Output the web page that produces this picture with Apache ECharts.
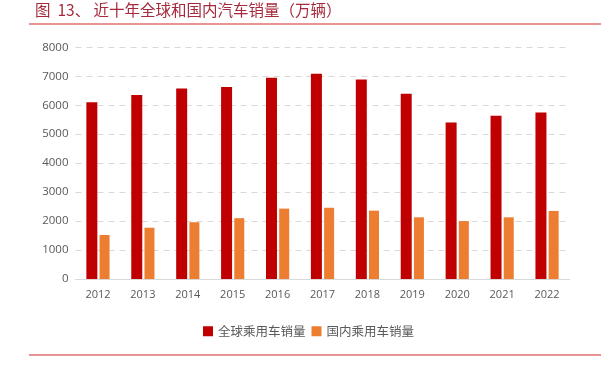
<!DOCTYPE html>
<html><head><meta charset="utf-8">
<script src="https://cdn.jsdelivr.net/npm/echarts@6/dist/echarts.min.js"></script>
<style>html,body{margin:0;padding:0;background:#fff}#c{width:601px;height:370px}</style>
</head><body><div id="c"></div>
<script>
const years = ['2012','2013','2014','2015','2016','2017','2018','2019','2020','2021','2022'];
const globalSales = [6100, 6350, 6580, 6630, 6950, 7090, 6890, 6400, 5400, 5640, 5750];
const domesticSales = [1520, 1770, 1960, 2100, 2430, 2460, 2360, 2130, 2000, 2130, 2350];
const seriesNames = ['全球乘用车销量', '国内乘用车销量'];
const titleText = '图  13、 近十年全球和国内汽车销量（万辆）';

const chart = echarts.init(document.getElementById('c'));
chart.setOption({
  animation: false,
  title: {text: titleText, left: 30, top: -3, textStyle: {fontFamily: 'Noto Sans CJK SC', fontSize: 15.5, fontWeight: 'normal', color: '#a52a3c'}},
  graphic: [
    {type: 'line', shape: {x1: 29, y1: 24, x2: 601, y2: 24}, style: {stroke: '#e07070', lineWidth: 1.5}},
    {type: 'line', shape: {x1: 29, y1: 355, x2: 601, y2: 355}, style: {stroke: '#e07070', lineWidth: 1.5}}
  ],
  legend: {
    data: seriesNames, left: 198, top: 320, itemWidth: 10, itemHeight: 10, itemGap: 6,
    icon: 'rect',
    textStyle: {fontFamily: 'Noto Sans CJK SC', fontSize: 12.5, color: '#595959'}
  },
  grid: {left: 75.5, right: 31.5, top: 47.3, bottom: 91, containLabel: false},
  xAxis: {
    type: 'category', data: years,
    axisLine: {lineStyle: {color: '#d9d9d9'}}, axisTick: {show: false},
    axisLabel: {color: '#595959', fontSize: 11, fontFamily: 'Open Sans', margin: 10}
  },
  yAxis: {
    type: 'value', min: 0, max: 8000, interval: 1000,
    axisLine: {show: false}, axisTick: {show: false},
    axisLabel: {color: '#595959', fontSize: 11.5, fontFamily: 'Open Sans', margin: 7, formatter: v => String(v)},
    splitLine: {lineStyle: {color: '#d9d9d9', type: [6, 5]}}
  },
  series: [
    {name: seriesNames[0], type: 'bar', data: globalSales, barWidth: 11, barGap: '20%', itemStyle: {color: '#c00000'}},
    {name: seriesNames[1], type: 'bar', data: domesticSales, barWidth: 10, itemStyle: {color: '#ed7d31'}}
  ]
});
</script></body></html>
